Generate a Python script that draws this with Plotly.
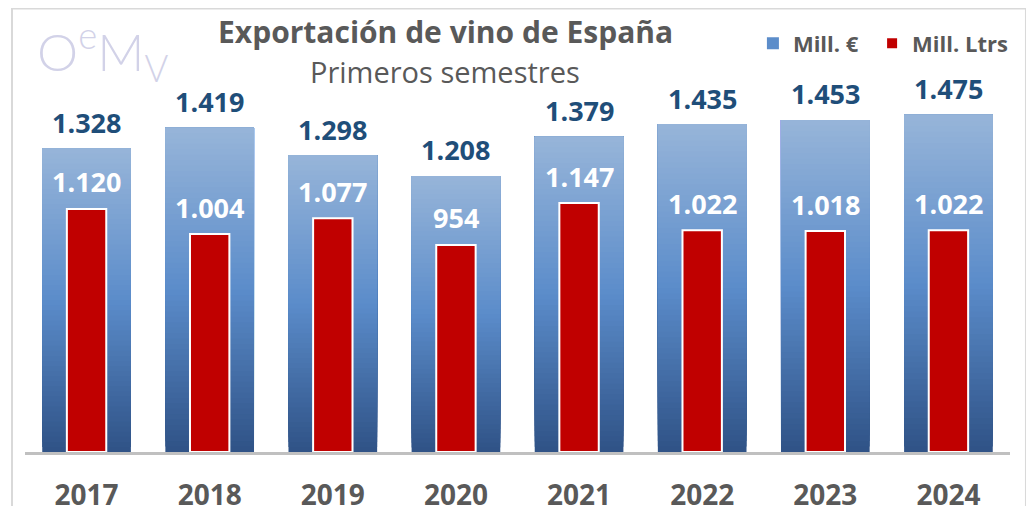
import plotly.graph_objects as go

years = ["2017", "2018", "2019", "2020", "2021", "2022", "2023", "2024"]
mill_eur = [1328, 1419, 1298, 1208, 1379, 1435, 1453, 1475]
mill_ltrs = [1120, 1004, 1077, 954, 1147, 1022, 1018, 1022]

FONT = "Open Sans, Noto Sans, sans-serif"
GRAY = "#595959"
NAVY = "#1f4e79"


def fmt(v):
    return f"{v:,}".replace(",", ".")


def hex2rgb(h):
    h = h.lstrip("#")
    return [int(h[i:i + 2], 16) for i in (0, 2, 4)]


stops = [(0.0, "#2f5286"), (0.5, "#5b8cca"), (1.0, "#97b5d9")]


def grad(t):
    for (t0, c0), (t1, c1) in zip(stops[:-1], stops[1:]):
        if t <= t1:
            a, b = hex2rgb(c0), hex2rgb(c1)
            f = (t - t0) / (t1 - t0) if t1 > t0 else 0
            r = [round(a[k] + (b[k] - a[k]) * f) for k in range(3)]
            return f"rgb({r[0]},{r[1]},{r[2]})"
    return stops[-1][1]


fig = go.Figure()

N = 60
BW = 0.72
for i in range(N):
    frac = i / N
    fig.add_trace(go.Bar(
        x=years,
        base=[v * frac for v in mill_eur],
        y=[v * (1 - frac) for v in mill_eur],
        width=BW,
        marker=dict(color=grad((i + 0.5) / N), line=dict(width=0)),
        name="Mill. €",
        showlegend=(i == N // 2),
        legend="legend",
        hoverinfo="skip",
    ))

RW = 0.32
fig.add_trace(go.Bar(
    x=years, y=mill_ltrs,
    width=RW,
    marker=dict(color="#c00000", line=dict(color="white", width=2)),
    name="Mill. Ltrs",
    legend="legend2",
    yaxis="y2",
))

annotations = []
for idx, v in enumerate(mill_eur):
    annotations.append(dict(x=idx, y=v, xref="x", yref="y", text=fmt(v),
                            showarrow=False, yshift=26,
                            font=dict(family=FONT, size=27, color=NAVY, weight="bold")))
for idx, v in enumerate(mill_ltrs):
    annotations.append(dict(x=idx, y=v, xref="x", yref="y2", text=fmt(v),
                            showarrow=False, yshift=27,
                            font=dict(family=FONT, size=27, color="white", weight="bold")))

annotations += [
    dict(x=0.4264, y=1.0727, xref="paper", yref="paper", text="Exportación de vino de España",
         showarrow=False, xanchor="center", yanchor="middle",
         font=dict(family=FONT, size=30, color=GRAY, weight="bold")),
    dict(x=0.4264, y=0.9694, xref="paper", yref="paper", text="Primeros semestres",
         showarrow=False, xanchor="center", yanchor="middle",
         font=dict(family=FONT, size=29, color=GRAY)),
    dict(x=0.0102, y=1.022, xref="paper", yref="paper", text="O<sup>e</sup>M<sub>V</sub>",
         showarrow=False, xanchor="left", yanchor="middle",
         font=dict(family="Lato, sans-serif", size=52, color="#d2d2e8", weight=300)),
]

legend_font = dict(family=FONT, size=22, color=GRAY, weight="bold")

fig.update_layout(
    width=1026, height=498,
    margin=dict(l=17, r=24, t=52, b=54),
    paper_bgcolor="white", plot_bgcolor="white",
    barmode="overlay",
    showlegend=True,
    legend=dict(orientation="h", x=0.739, y=1.042, xanchor="left", yanchor="middle",
                font=legend_font, bgcolor="rgba(0,0,0,0)"),
    legend2=dict(orientation="h", x=0.860, y=1.042, xanchor="left", yanchor="middle",
                 font=legend_font, bgcolor="rgba(0,0,0,0)"),
    xaxis=dict(type="category", categoryorder="array", categoryarray=years,
               range=[-0.5, len(years) - 0.5], automargin=False,
               showline=True, linecolor="#c0c0c0", linewidth=3, showgrid=False,
               tickfont=dict(family=FONT, size=28, color=GRAY, weight="bold"),
               ticks="", ticklabelstandoff=16),
    yaxis=dict(range=[0, 1715], visible=False, showgrid=False, zeroline=False),
    yaxis2=dict(range=[0, 1806], overlaying="y", visible=False, showgrid=False, zeroline=False),
    annotations=annotations,
    shapes=[dict(type="rect", xref="paper", yref="paper",
                 x0=-0.0132, x1=1.0162, y0=-0.2, y1=1.1314,
                 line=dict(color="#d9d9d9", width=2), layer="below")],
)

fig.write_html("out.html")
